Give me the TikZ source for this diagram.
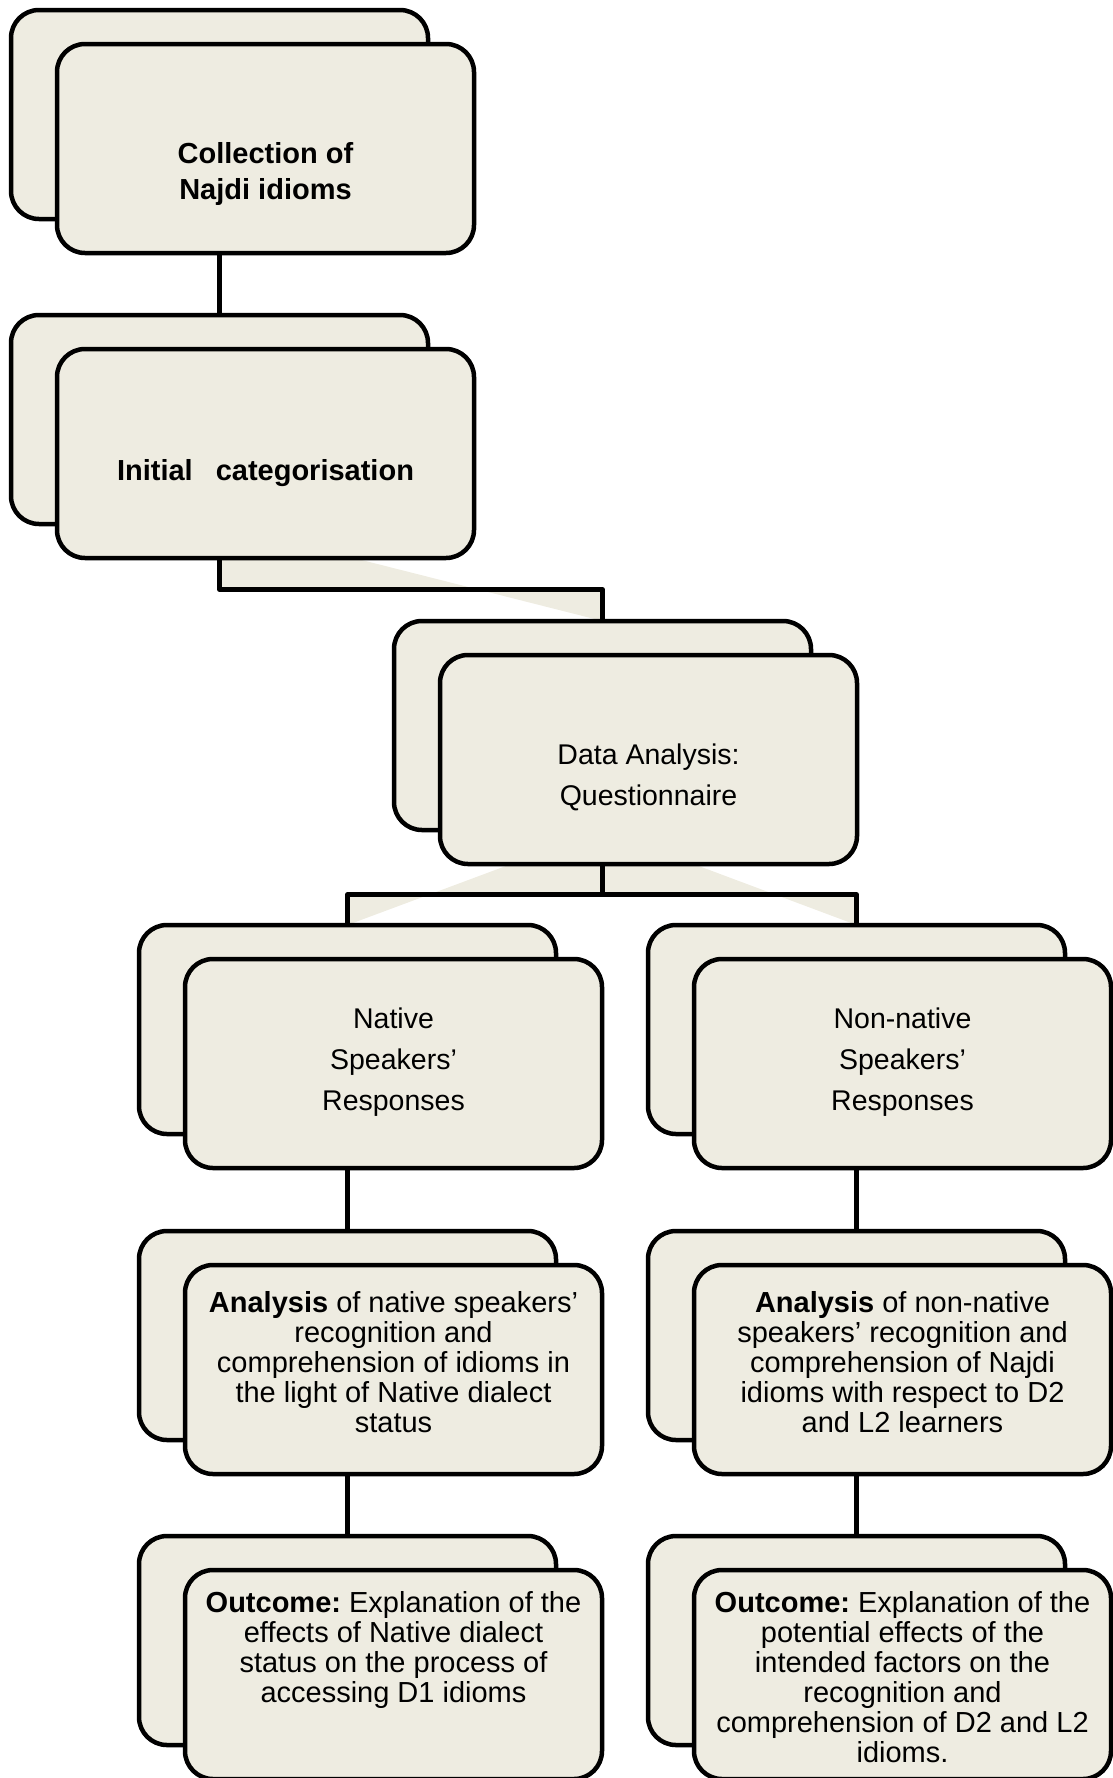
\documentclass[tikz,border=0pt]{standalone}
\usepackage{fontspec}
\setmainfont{Liberation Sans}
\usetikzlibrary{calc}
\definecolor{cardfill}{HTML}{EEECE1}
\pgfdeclarelayer{background}
\pgfsetlayers{background,main}
\frenchspacing
\begin{document}
\begin{tikzpicture}[x=1pt,y=-1pt,
  card/.style={draw=black, line width=4.5pt, fill=cardfill, rounded corners=28pt,
    minimum width=417pt, minimum height=209pt, inner sep=0pt, outer sep=0pt},
  cardtext/.style={align=center, inner sep=0pt, anchor=north},
  headtext/.style={cardtext, font=\bfseries\fontsize{29}{36}\selectfont},
  midtext/.style={cardtext, font=\fontsize{28.5}{41}\selectfont},
  bodytext/.style={cardtext, font=\fontsize{29}{30}\selectfont},
  wire/.style={draw=black, line width=4.5pt, line join=round},
  wirefill/.style={fill=cardfill, draw=none}]
\useasboundingbox (0,0) rectangle (1112,1778);

% stacked cards: back sheet, then front sheet
\node[card] (b1) at (219.5,114.5) {};
\node[card] (f1) at (265.5,148.5) {};
\node[card] (b2) at (219.5,419.5) {};
\node[card] (f2) at (265.5,453.5) {};
\node[card] (b3) at (602.5,725.5) {};
\node[card] (f3) at (648.5,759.5) {};
\node[card] (b4l) at (347.5,1029.5) {};
\node[card] (f4l) at (393.5,1063.5) {};
\node[card] (b4r) at (856.5,1029.5) {};
\node[card] (f4r) at (902.5,1063.5) {};
\node[card] (b5l) at (347.5,1335.5) {};
\node[card] (f5l) at (393.5,1369.5) {};
\node[card] (b5r) at (856.5,1335.5) {};
\node[card] (f5r) at (902.5,1369.5) {};
\node[card] (b6l) at (347.5,1640.5) {};
\node[card] (f6l) at (393.5,1674.5) {};
\node[card] (b6r) at (856.5,1640.5) {};
\node[card] (f6r) at (902.5,1674.5) {};

% card texts
\node[headtext] (t1) at (265.5,142) {Collection of\\Najdi idioms};
\node[headtext, anchor=base] (t2) at (265.5,480) {Initial\hspace{23pt}categorisation};
\node[midtext] (t3) at (648.5,744) {Data Analysis:\\Questionnaire};
\node[midtext] (t4l) at (393.5,1008) {Native\\Speakers’\\Responses};
\node[midtext] (t4r) at (902.5,1008) {Non-native\\Speakers’\\Responses};
\node[bodytext] (t5l) at (393.5,1291) {\textbf{Analysis} of native speakers’\\recognition and\\comprehension of idioms in\\the light of Native dialect\\status};
\node[bodytext] (t5r) at (902.5,1291) {\textbf{Analysis} of non-native\\speakers’ recognition and\\comprehension of Najdi\\idioms with respect to D2\\and L2 learners};
\node[bodytext] (t6l) at (393.5,1591) {\textbf{Outcome:} Explanation of the\\effects of Native dialect\\status on the process of\\accessing D1 idioms};
\node[bodytext] (t6r) at (902.5,1591) {\textbf{Outcome:} Explanation of the\\potential effects of the\\intended factors on the\\recognition and\\comprehension of D2 and L2\\idioms.};

% elbow levels, halfway between parent and child
\coordinate (m2) at ($(f2.south)!0.5!(b3.north)$);
\coordinate (m3) at ($(f3.south)!0.5!(b4l.north)$);
\coordinate (m2a) at (b3.north |- m2);
\coordinate (m3l) at (b4l.north |- m3);
\coordinate (m3r) at (b4r.north |- m3);

\begin{pgfonlayer}{background}
  % shaded wedges of the elbow connectors
  \path[wirefill] (b2.south) |- (m2a) -- (b3.north) -- cycle;
  \path[wirefill] (b3.south) |- (m3l) -- (b4l.north) -- cycle;
  \path[wirefill] (b3.south) |- (m3r) -- (b4r.north) -- cycle;
  % connector lines
  \draw[wire] (b1.south) -- (b2.north);
  \draw[wire] (b2.south) |- (m2a) -- (b3.north);
  \draw[wire] (b3.south) |- (m3l) -- (b4l.north);
  \draw[wire] (b3.south) |- (m3r) -- (b4r.north);
  \draw[wire] (b4l.south) -- (b5l.north);
  \draw[wire] (b4r.south) -- (b5r.north);
  \draw[wire] (b5l.south) -- (b6l.north);
  \draw[wire] (b5r.south) -- (b6r.north);
\end{pgfonlayer}
\end{tikzpicture}
\end{document}
